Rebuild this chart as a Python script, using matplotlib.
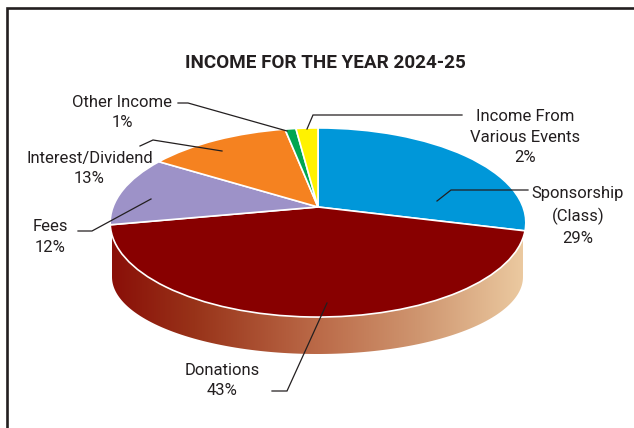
#!/usr/bin/env python
#-*- coding: utf-8 -*-
import numpy as np
import matplotlib
matplotlib.use('Agg')
import matplotlib.pyplot as plt
from matplotlib.colors import LinearSegmentedColormap
from matplotlib.patches import PathPatch
from matplotlib.path import Path
from matplotlib.transforms import Transform

plt.rcParams['font.family']=['Roboto', 'Liberation Sans', 'DejaVu Sans']

title='INCOME FOR THE YEAR 2024-25'
categories=['Sponsorship\n(Class)', 'Donations', 'Fees', 'Interest/Dividend', 'Other Income', 'Income From\nVarious Events']
values=[29, 43, 12, 13, 1, 2]
colors=['#0097d9', '#880000', '#9d92c8', '#f58220', '#00a651', '#fff200']

# label centres and leader lines, in image pixels
labelpos=[(578, 216), (222, 380.5), (50, 237), (89.5, 168.5), (122, 112.5), (525, 137)]
leaders=[
    [(528, 190), (451, 190), (437, 201)],
    [(327, 303), (287, 391), (272, 391)],
    [(78, 231), (92, 231), (151, 199)],
    [(140, 146), (153, 140), (222, 151)],
    [(178, 103), (188, 103), (287, 131)],
    [(462, 115), (313, 115), (307, 129)],
]
# perspective of the pie top
CX, CY=318., 207.
AX, AY, K=205., 92., 0.164

class Persp(Transform):
    input_dims=2
    output_dims=2
    def transform_non_affine(self, xy):
        xy=np.asarray(xy, dtype=float)
        den=1+K*xy[:, 1]
        return np.column_stack((CX+AX*xy[:, 0]/den, CY-AY*xy[:, 1]/den))

fig=plt.figure(figsize=(6.34, 4.28), dpi=100)
ax=fig.add_axes([0, 0, 1, 1])

# side wall, gradient clipped to the front rim
wallcmap=LinearSegmentedColormap.from_list('wall', [(0, '#8a0f08'), (0.2, '#983319'), (0.5, '#bb6a48'), (0.75, '#cf9670'), (1, '#ebc9a0')])
img=ax.imshow(np.linspace(0, 1, 256).reshape(1, -1), cmap=wallcmap, aspect='auto', extent=(112, 523, 360, 225), zorder=1)
tt=np.linspace(np.pi, 0, 120)
wallx=317.5+205.5*np.cos(tt)
wally=277+77*np.sin(tt)
wallv=np.vstack(([112, 228], np.column_stack((wallx, wally)), [523, 228], [112, 228]))
clip=PathPatch(Path(wallv), transform=ax.transData, facecolor='none', edgecolor='none')
ax.add_patch(clip)
img.set_clip_path(clip)

ax.pie(values, colors=colors, startangle=90, counterclock=False, radius=1,
       wedgeprops=dict(transform=Persp()+ax.transData, edgecolor='white', linewidth=1.2, zorder=2))

ax.set_aspect('auto')
ax.set_xlim(0, 634)
ax.set_ylim(428, 0)
ax.axis('off')

# page frame
ax.plot([7.3, 7.3, 634], [428, 8.2, 8.2], color='#231f20', lw=1.9, solid_joinstyle='miter', zorder=5)

ax.text(325, 62.5, title, ha='center', va='center', fontsize=13.6, fontweight='bold', color='#231f20')

for name, val, pos in zip(categories, values, labelpos):
    ax.text(pos[0], pos[1], '%s\n%d%%'%(name, val), ha='center', va='center', multialignment='center',
            fontsize=12, color='#231f20', linespacing=1.48, zorder=6)
for line in leaders:
    ax.plot([p[0] for p in line], [p[1] for p in line], color='#231f20', lw=0.9, zorder=4, solid_joinstyle='miter')

fig.savefig('out.png', dpi=100, facecolor='white')
